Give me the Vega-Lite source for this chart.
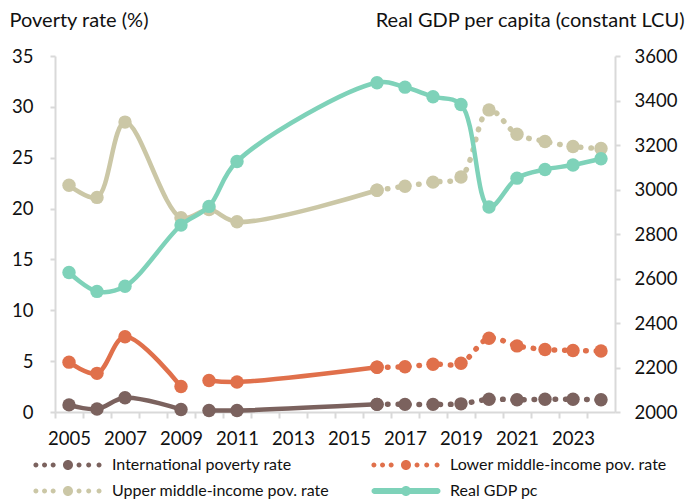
{
  "$schema": "https://vega.github.io/schema/vega-lite/v6.json",
  "width": 560,
  "height": 356,
  "autosize": {"type": "none"},
  "padding": {"left": 55, "top": 56, "right": 71, "bottom": 88},
  "background": "white",
  "config": {
    "font": "Lato",
    "view": {"stroke": null},
    "axis": {
      "grid": false,
      "domainColor": "#d9d9d9",
      "domainWidth": 2,
      "tickColor": "#d9d9d9",
      "tickWidth": 2,
      "tickSize": 6,
      "labelFont": "Lato",
      "labelFontSize": 18.5,
      "labelColor": "#111111",
      "titleFont": "Lato",
      "titleFontSize": 20,
      "titleFontWeight": "normal",
      "titleColor": "#111111"
    }
  },
  "datasets": {
    "poverty": [
      {"series": "International poverty rate", "segment": "actual1", "year": 2005, "rate": 0.7},
      {"series": "International poverty rate", "segment": "actual1", "year": 2006, "rate": 0.3},
      {"series": "International poverty rate", "segment": "actual1", "year": 2007, "rate": 1.4},
      {"series": "International poverty rate", "segment": "actual1", "year": 2009, "rate": 0.25},
      {"series": "International poverty rate", "segment": "actual2", "year": 2010, "rate": 0.15},
      {"series": "International poverty rate", "segment": "actual2", "year": 2011, "rate": 0.15},
      {"series": "International poverty rate", "segment": "actual2", "year": 2016, "rate": 0.75},
      {"series": "International poverty rate", "segment": "projected", "year": 2016, "rate": 0.75},
      {"series": "International poverty rate", "segment": "projected", "year": 2017, "rate": 0.75},
      {"series": "International poverty rate", "segment": "projected", "year": 2018, "rate": 0.75},
      {"series": "International poverty rate", "segment": "projected", "year": 2019, "rate": 0.8},
      {"series": "International poverty rate", "segment": "projected", "year": 2020, "rate": 1.25},
      {"series": "International poverty rate", "segment": "projected", "year": 2021, "rate": 1.2},
      {"series": "International poverty rate", "segment": "projected", "year": 2022, "rate": 1.25},
      {"series": "International poverty rate", "segment": "projected", "year": 2023, "rate": 1.25},
      {"series": "International poverty rate", "segment": "projected", "year": 2024, "rate": 1.2},
      {"series": "Lower middle-income pov. rate", "segment": "actual1", "year": 2005, "rate": 4.9},
      {"series": "Lower middle-income pov. rate", "segment": "actual1", "year": 2006, "rate": 3.8},
      {"series": "Lower middle-income pov. rate", "segment": "actual1", "year": 2007, "rate": 7.4},
      {"series": "Lower middle-income pov. rate", "segment": "actual1", "year": 2009, "rate": 2.5},
      {"series": "Lower middle-income pov. rate", "segment": "actual2", "year": 2010, "rate": 3.1},
      {"series": "Lower middle-income pov. rate", "segment": "actual2", "year": 2011, "rate": 2.95},
      {"series": "Lower middle-income pov. rate", "segment": "actual2", "year": 2016, "rate": 4.4},
      {"series": "Lower middle-income pov. rate", "segment": "projected", "year": 2016, "rate": 4.4},
      {"series": "Lower middle-income pov. rate", "segment": "projected", "year": 2017, "rate": 4.45},
      {"series": "Lower middle-income pov. rate", "segment": "projected", "year": 2018, "rate": 4.7},
      {"series": "Lower middle-income pov. rate", "segment": "projected", "year": 2019, "rate": 4.8},
      {"series": "Lower middle-income pov. rate", "segment": "projected", "year": 2020, "rate": 7.25},
      {"series": "Lower middle-income pov. rate", "segment": "projected", "year": 2021, "rate": 6.5},
      {"series": "Lower middle-income pov. rate", "segment": "projected", "year": 2022, "rate": 6.15},
      {"series": "Lower middle-income pov. rate", "segment": "projected", "year": 2023, "rate": 6.05},
      {"series": "Lower middle-income pov. rate", "segment": "projected", "year": 2024, "rate": 6.0},
      {"series": "Upper middle-income pov. rate", "segment": "actual1", "year": 2005, "rate": 22.3},
      {"series": "Upper middle-income pov. rate", "segment": "actual1", "year": 2006, "rate": 21.1},
      {"series": "Upper middle-income pov. rate", "segment": "actual1", "year": 2007, "rate": 28.5},
      {"series": "Upper middle-income pov. rate", "segment": "actual1", "year": 2009, "rate": 19.1},
      {"series": "Upper middle-income pov. rate", "segment": "actual1", "year": 2010, "rate": 19.9},
      {"series": "Upper middle-income pov. rate", "segment": "actual1", "year": 2011, "rate": 18.7},
      {"series": "Upper middle-income pov. rate", "segment": "actual1", "year": 2016, "rate": 21.8},
      {"series": "Upper middle-income pov. rate", "segment": "projected", "year": 2016, "rate": 21.8},
      {"series": "Upper middle-income pov. rate", "segment": "projected", "year": 2017, "rate": 22.2},
      {"series": "Upper middle-income pov. rate", "segment": "projected", "year": 2018, "rate": 22.6},
      {"series": "Upper middle-income pov. rate", "segment": "projected", "year": 2019, "rate": 23.1},
      {"series": "Upper middle-income pov. rate", "segment": "projected", "year": 2020, "rate": 29.7},
      {"series": "Upper middle-income pov. rate", "segment": "projected", "year": 2021, "rate": 27.3},
      {"series": "Upper middle-income pov. rate", "segment": "projected", "year": 2022, "rate": 26.6},
      {"series": "Upper middle-income pov. rate", "segment": "projected", "year": 2023, "rate": 26.1},
      {"series": "Upper middle-income pov. rate", "segment": "projected", "year": 2024, "rate": 25.9}
    ],
    "gdp": [
      {"series": "Real GDP pc", "year": 2005, "gdp": 2627},
      {"series": "Real GDP pc", "year": 2006, "gdp": 2542},
      {"series": "Real GDP pc", "year": 2007, "gdp": 2565},
      {"series": "Real GDP pc", "year": 2009, "gdp": 2840},
      {"series": "Real GDP pc", "year": 2010, "gdp": 2924},
      {"series": "Real GDP pc", "year": 2011, "gdp": 3126},
      {"series": "Real GDP pc", "year": 2016, "gdp": 3480},
      {"series": "Real GDP pc", "year": 2017, "gdp": 3460},
      {"series": "Real GDP pc", "year": 2018, "gdp": 3417},
      {"series": "Real GDP pc", "year": 2019, "gdp": 3382},
      {"series": "Real GDP pc", "year": 2020, "gdp": 2921},
      {"series": "Real GDP pc", "year": 2021, "gdp": 3051},
      {"series": "Real GDP pc", "year": 2022, "gdp": 3090},
      {"series": "Real GDP pc", "year": 2023, "gdp": 3110},
      {"series": "Real GDP pc", "year": 2024, "gdp": 3138}
    ]
  },
  "encoding": {
    "x": {
      "field": "year",
      "type": "quantitative",
      "scale": {"domain": [2004.5, 2024.5], "nice": false, "zero": false},
      "axis": {
        "title": null,
        "values": [2005, 2006, 2007, 2008, 2009, 2010, 2011, 2012, 2013, 2014, 2015, 2016, 2017, 2018, 2019, 2020, 2021, 2022, 2023, 2024],
        "tickOffset": -14,
        "labelOffset": 14,
        "labelFlush": false,
        "labelOverlap": false,
        "labelPadding": 11,
        "labelExpr": "datum.value % 2 == 1 ? toString(datum.value) : ''"
      }
    },
    "color": {
      "field": "series",
      "type": "nominal",
      "scale": {
        "domain": ["International poverty rate", "Lower middle-income pov. rate", "Upper middle-income pov. rate", "Real GDP pc"],
        "range": ["#7b625e", "#e0704b", "#cbc7a6", "#7ed2b9"]
      },
      "legend": {
        "orient": "none",
        "direction": "horizontal",
        "legendX": -21.5,
        "legendY": 401,
        "columns": 2,
        "title": null,
        "padding": 0,
        "labelFont": "Lato",
        "labelFontSize": 16,
        "labelColor": "#111111",
        "labelLimit": 400,
        "symbolSize": 100,
        "symbolStrokeWidth": 0,
        "symbolOffset": 26.5,
        "labelOffset": 36,
        "columnPadding": 41,
        "rowPadding": 10,
        "encode": {
          "symbols": {
            "update": {
              "shape": {"signal": "datum.value === 'Real GDP pc' ? 'M-6.3,-0.6L6.3,-0.6A0.6,0.6,0,0,1,6.3,0.6L-6.3,0.6A0.6,0.6,0,0,1,-6.3,-0.6ZM-1,0A1,1,0,1,1,1,0A1,1,0,1,1,-1,0Z' : 'M-6.917,0A0.5,0.5,0,1,1,-5.917,0A0.5,0.5,0,1,1,-6.917,0ZM-5.192,0A0.5,0.5,0,1,1,-4.192,0A0.5,0.5,0,1,1,-5.192,0ZM-3.467,0A0.5,0.5,0,1,1,-2.467,0A0.5,0.5,0,1,1,-3.467,0ZM-1,0A1,1,0,1,1,1,0A1,1,0,1,1,-1,0ZM1.708,0A0.5,0.5,0,1,1,2.708,0A0.5,0.5,0,1,1,1.708,0ZM3.64,0A0.5,0.5,0,1,1,4.64,0A0.5,0.5,0,1,1,3.64,0ZM5.71,0A0.5,0.5,0,1,1,6.71,0A0.5,0.5,0,1,1,5.71,0Z'"},
              "size": {"value": 100},
              "fill": {"scale": "color", "field": "value"},
              "stroke": {"value": "transparent"},
              "strokeWidth": {"value": 0},
              "opacity": {"value": 1}
            }
          }
        }
      }
    }
  },
  "layer": [
    {
      "data": {"name": "poverty"},
      "encoding": {
        "y": {
          "field": "rate",
          "type": "quantitative",
          "scale": {"domain": [0, 35], "nice": false},
          "axis": {
            "title": "Poverty rate (%)",
            "values": [0, 5, 10, 15, 20, 25, 30, 35],
            "titleAngle": 0,
            "titleAlign": "left",
            "titleBaseline": "middle",
            "titleX": -46,
            "titleY": -36,
            "labelPadding": 17,
            "tickSize": 5
          }
        }
      },
      "layer": [
        {
          "transform": [{"filter": "datum.segment !== 'projected'"}],
          "mark": {"type": "line", "strokeWidth": 4.5, "interpolate": "catmull-rom"},
          "encoding": {"detail": {"field": "segment"}}
        },
        {
          "transform": [{"filter": "datum.segment === 'projected'"}],
          "mark": {"type": "line", "strokeWidth": 5.5, "strokeDash": [0.5, 10], "strokeCap": "round", "interpolate": "catmull-rom"},
          "encoding": {"detail": {"field": "segment"}}
        },
        {
          "mark": {"type": "circle", "size": 180, "opacity": 1},
          "encoding": {}
        }
      ]
    },
    {
      "data": {"name": "gdp"},
      "encoding": {
        "y": {
          "field": "gdp",
          "type": "quantitative",
          "scale": {"domain": [2000, 3600], "nice": false, "zero": false},
          "axis": {
            "orient": "right",
            "title": "Real GDP per capita (constant LCU)",
            "values": [2000, 2200, 2400, 2600, 2800, 3000, 3200, 3400, 3600],
            "format": "d",
            "titleAngle": 0,
            "titleAlign": "right",
            "titleBaseline": "middle",
            "titleX": 69,
            "titleY": -36,
            "labelPadding": 14,
            "tickSize": 5
          }
        }
      },
      "layer": [
        {
          "mark": {"type": "line", "strokeWidth": 4.5, "interpolate": "catmull-rom"},
          "encoding": {}
        },
        {
          "mark": {"type": "circle", "size": 180, "opacity": 1},
          "encoding": {}
        }
      ]
    }
  ],
  "resolve": {"scale": {"y": "independent"}}
}
